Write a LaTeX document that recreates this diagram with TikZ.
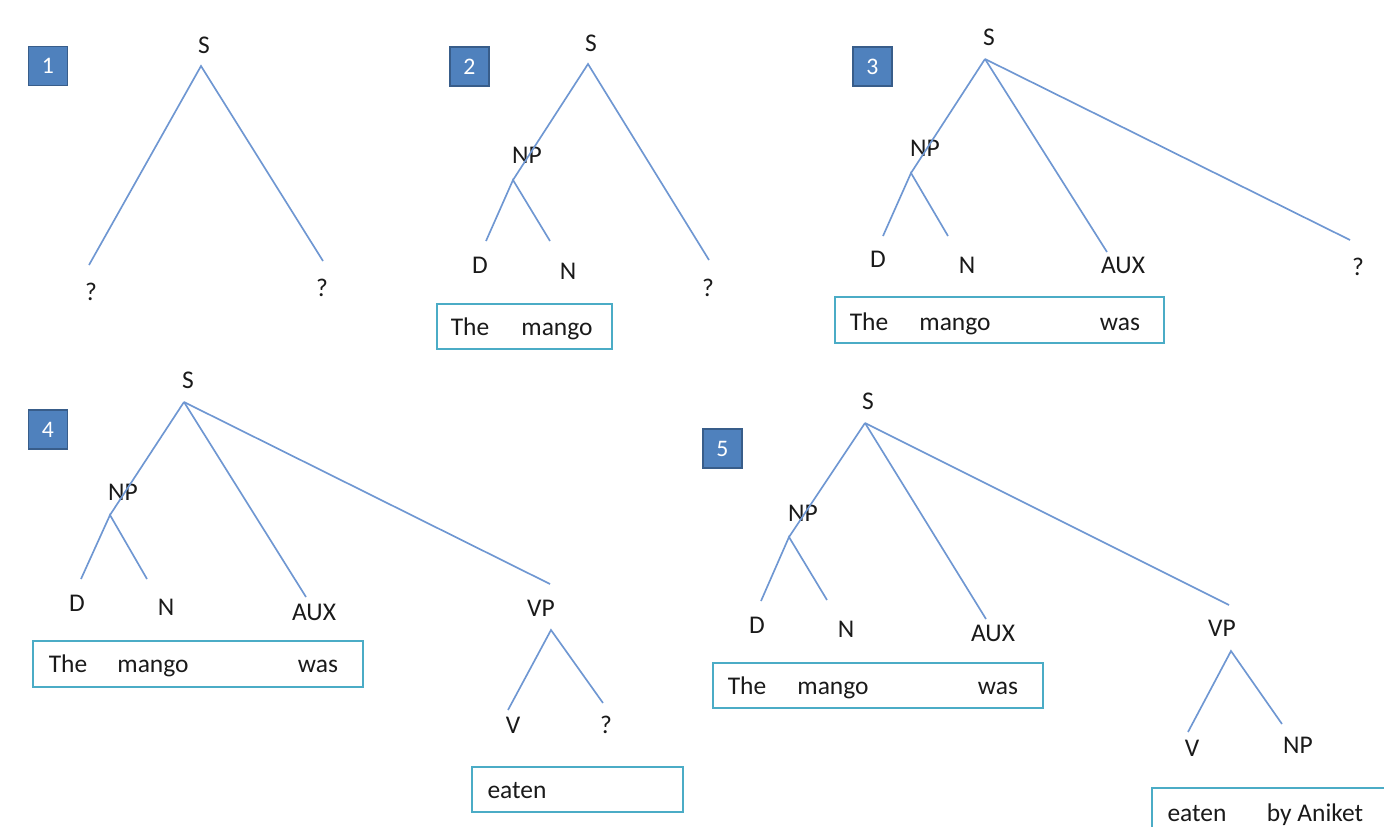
\documentclass[tikz,border=0pt]{standalone}
\usepackage{fontspec}
\setmainfont{Carlito}
\usepackage{tikz}
\definecolor{treeblue}{HTML}{6F97D2}
\definecolor{stepblue}{HTML}{4F81BD}
\definecolor{stepedge}{HTML}{385D8A}
\definecolor{wordcyan}{HTML}{4BACC6}
\definecolor{labelgray}{HTML}{1A1A1A}
\tikzset{
  treefont/.style={font=\fontsize{14.5}{17}\selectfont},
  cat/.style={treefont, text=labelgray, anchor=base, inner sep=0pt},
  word/.style={cat},
  treeline/.style={draw=treeblue, line width=0.95pt},
  wordbox/.style={draw=wordcyan, line width=1.5pt},
  numbox/.style={draw=stepedge, fill=stepblue, line width=0.8pt, text=white,
    minimum size=0.78cm, inner sep=0pt, font=\fontsize{13.5}{15}\selectfont},
}

\begin{document}
\begin{tikzpicture}[x=0.02cm, y=-0.02cm]
  \useasboundingbox (0,0) rectangle (1384,826);

  % Step 1: S with two unknown daughters
  \node[numbox] (n1) at (48,66) {1};
  \node[cat] (p1-S) at (204,53) {S};
  \node[cat] (p1-q1) at (91,300) {?};
  \node[cat] (p1-q2) at (322,296) {?};
  \coordinate (p1-top) at (201,66);
  \coordinate (p1-left) at (89,265);
  \coordinate (p1-right) at (323,261);
  \draw[treeline] (p1-left) -- (p1-top) -- (p1-right);

  % Step 2: NP expanded
  \node[numbox] (n2) at (469.5,66.5) {2};
  \node[cat] (p2-S) at (591,51) {S};
  \node[cat] (p2-NP) at (527,163) {NP};
  \node[cat] (p2-D) at (480,273) {D};
  \node[cat] (p2-N) at (568,279) {N};
  \node[cat] (p2-q) at (708,296) {?};
  \coordinate (p2-top) at (588,64);
  \coordinate (p2-np) at (513,180);
  \coordinate (p2-d) at (486,241);
  \coordinate (p2-n) at (550,241);
  \coordinate (p2-r) at (709,260);
  \draw[treeline] (p2-np) -- (p2-top) -- (p2-r);
  \draw[treeline] (p2-d) -- (p2-np) -- (p2-n);
  \draw[wordbox] (437,304) rectangle (612,349);
  \node[word] (p2-the) at (470,335) {The};
  \node[word] (p2-mango) at (557,335) {mango};

  % Step 3: AUX added
  \node[numbox] (n3) at (872.5,66.5) {3};
  \node[cat] (p3-S) at (989,45) {S};
  \node[cat] (p3-NP) at (925,156) {NP};
  \node[cat] (p3-D) at (878,267) {D};
  \node[cat] (p3-N) at (967,273) {N};
  \node[cat] (p3-AUX) at (1123,273) {AUX};
  \node[cat] (p3-q) at (1358,275) {?};
  \coordinate (p3-top) at (985,59);
  \coordinate (p3-np) at (911,173);
  \coordinate (p3-d) at (883,236);
  \coordinate (p3-n) at (948,236);
  \coordinate (p3-aux) at (1107,252);
  \coordinate (p3-r) at (1350,240);
  \draw[treeline] (p3-top) -- (p3-np);
  \draw[treeline] (p3-top) -- (p3-aux);
  \draw[treeline] (p3-top) -- (p3-r);
  \draw[treeline] (p3-d) -- (p3-np) -- (p3-n);
  \draw[wordbox] (835,297) rectangle (1164,343);
  \node[word] (p3-the) at (869,330) {The};
  \node[word] (p3-mango) at (955,330) {mango};
  \node[word] (p3-was) at (1120,330) {was};

  % Step 4: VP with unknown object
  \node[numbox] (n4) at (48,429.5) {4};
  \node[cat] (p4-S) at (188,388) {S};
  \node[cat] (p4-NP) at (123,500) {NP};
  \node[cat] (p4-D) at (77,611) {D};
  \node[cat] (p4-N) at (166,615) {N};
  \node[cat] (p4-AUX) at (314,620) {AUX};
  \node[cat] (p4-VP) at (541,616) {VP};
  \node[cat] (p4-V) at (513,733) {V};
  \node[cat] (p4-q) at (606,733) {?};
  \coordinate (p4-top) at (184,402);
  \coordinate (p4-np) at (110,515);
  \coordinate (p4-d) at (81,579);
  \coordinate (p4-n) at (147,579);
  \coordinate (p4-aux) at (306,597);
  \coordinate (p4-vp) at (550,584);
  \coordinate (p4-vptop) at (551,630);
  \coordinate (p4-v) at (508,710);
  \coordinate (p4-r) at (603,703);
  \draw[treeline] (p4-top) -- (p4-np);
  \draw[treeline] (p4-top) -- (p4-aux);
  \draw[treeline] (p4-top) -- (p4-vp);
  \draw[treeline] (p4-d) -- (p4-np) -- (p4-n);
  \draw[treeline] (p4-v) -- (p4-vptop) -- (p4-r);
  \draw[wordbox] (33,641) rectangle (363,687);
  \node[word] (p4-the) at (68,672) {The};
  \node[word] (p4-mango) at (153,672) {mango};
  \node[word] (p4-was) at (318,672) {was};
  \draw[wordbox] (472,767) rectangle (683,812);
  \node[word] (p4-eaten) at (517,798) {eaten};

  % Step 5: full parse
  \node[numbox] (n5) at (722.5,448.5) {5};
  \node[cat] (p5-S) at (868,409) {S};
  \node[cat] (p5-NP) at (803,521) {NP};
  \node[cat] (p5-D) at (757,633) {D};
  \node[cat] (p5-N) at (846,637) {N};
  \node[cat] (p5-AUX) at (993,641) {AUX};
  \node[cat] (p5-VP) at (1222,636) {VP};
  \node[cat] (p5-V) at (1192,756) {V};
  \node[cat] (p5-NP2) at (1298,753) {NP};
  \coordinate (p5-top) at (865,423);
  \coordinate (p5-np) at (789,537);
  \coordinate (p5-d) at (761,601);
  \coordinate (p5-n) at (827,600);
  \coordinate (p5-aux) at (986,619);
  \coordinate (p5-vp) at (1229,605);
  \coordinate (p5-vptop) at (1231,651);
  \coordinate (p5-v) at (1188,732);
  \coordinate (p5-obj) at (1282,724);
  \draw[treeline] (p5-top) -- (p5-np);
  \draw[treeline] (p5-top) -- (p5-aux);
  \draw[treeline] (p5-top) -- (p5-vp);
  \draw[treeline] (p5-d) -- (p5-np) -- (p5-n);
  \draw[treeline] (p5-v) -- (p5-vptop) -- (p5-obj);
  \draw[wordbox] (713,663) rectangle (1043,708);
  \node[word] (p5-the) at (747,694) {The};
  \node[word] (p5-mango) at (833,694) {mango};
  \node[word] (p5-was) at (998,694) {was};
  \draw[wordbox] (1152,788) rectangle (1400,850);
  \node[word] (p5-eaten) at (1197,821) {eaten};
  \node[word] (p5-by) at (1315,821) {by Aniket};
\end{tikzpicture}
\end{document}
